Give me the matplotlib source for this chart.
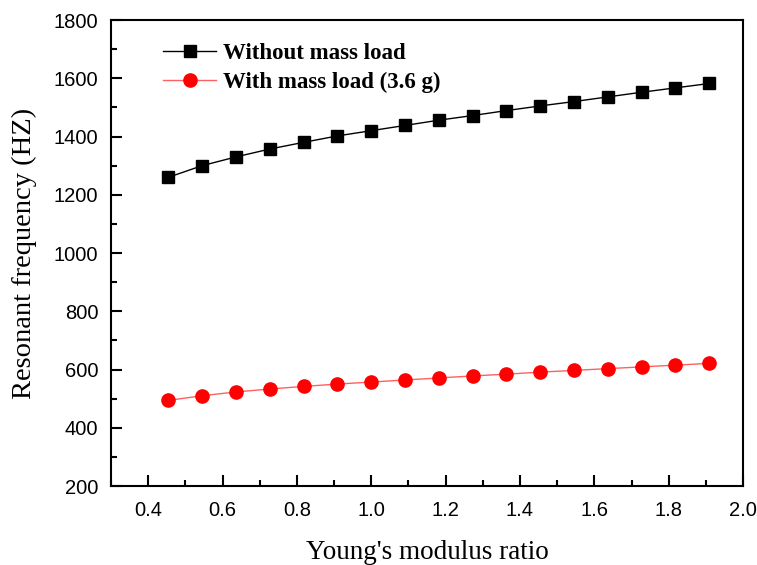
import matplotlib
matplotlib.use("Agg")
import matplotlib.pyplot as plt
import matplotlib.ticker as ticker

# Young's modulus ratio (x) and resonant frequency (Hz)
ratio = [5/11, 6/11, 7/11, 8/11, 9/11, 10/11, 11/11, 12/11, 13/11,
         14/11, 15/11, 16/11, 17/11, 18/11, 19/11, 20/11, 21/11]
freq_no_load = [1260, 1300, 1330, 1357, 1380, 1402, 1420, 1438, 1456,
                1472, 1489, 1505, 1520, 1536, 1552, 1567, 1582]
freq_load = [494, 510, 523, 533, 542, 550, 557, 564, 571,
             578, 584, 591, 597, 603, 609, 615, 621]
labels = ["Without mass load", "With mass load (3.6 g)"]

fig = plt.figure(figsize=(7.57, 5.65), dpi=100)
ax = fig.add_axes([0.1466, 0.1398, 0.835, 0.8248])

ax.plot(ratio, freq_no_load, color="black", lw=1, marker="s", ms=8,
        label=labels[0])
ax.plot(ratio, freq_load, color="#ff6060", lw=1, marker="o", ms=9.5,
        mfc="red", mec="red", label=labels[1])

ax.set_xlim(0.3, 2.0)
ax.set_ylim(200, 1800)
ax.xaxis.set_major_locator(ticker.MultipleLocator(0.2))
ax.xaxis.set_minor_locator(ticker.MultipleLocator(0.1))
ax.yaxis.set_major_locator(ticker.MultipleLocator(200))
ax.yaxis.set_minor_locator(ticker.MultipleLocator(100))
ax.xaxis.set_major_formatter(ticker.FormatStrFormatter("%.1f"))
ax.tick_params(which="both", direction="in", width=1.5, labelsize=14.5,
               top=False, right=False)
ax.tick_params(axis="x", pad=11)
ax.tick_params(axis="y", pad=9)
ax.tick_params(which="major", length=8)
ax.tick_params(which="minor", length=4)
for lab in ax.get_xticklabels() + ax.get_yticklabels():
    lab.set_family("Liberation Sans")
for s in ax.spines.values():
    s.set_linewidth(1.5)

ax.set_xlabel("Young's modulus ratio", family="Liberation Serif",
              fontsize=19.5, labelpad=14)
ax.set_ylabel("Resonant frequency (HZ)", family="Liberation Serif",
              fontsize=20.5, labelpad=12)

ax.legend(loc="upper left", bbox_to_anchor=(0.05, 0.995), frameon=False,
          prop={"family": "Liberation Serif", "weight": "bold", "size": 16.5},
          handlelength=2.3, handletextpad=0.3, labelspacing=0.35)

fig.savefig("out.png", dpi=100)
